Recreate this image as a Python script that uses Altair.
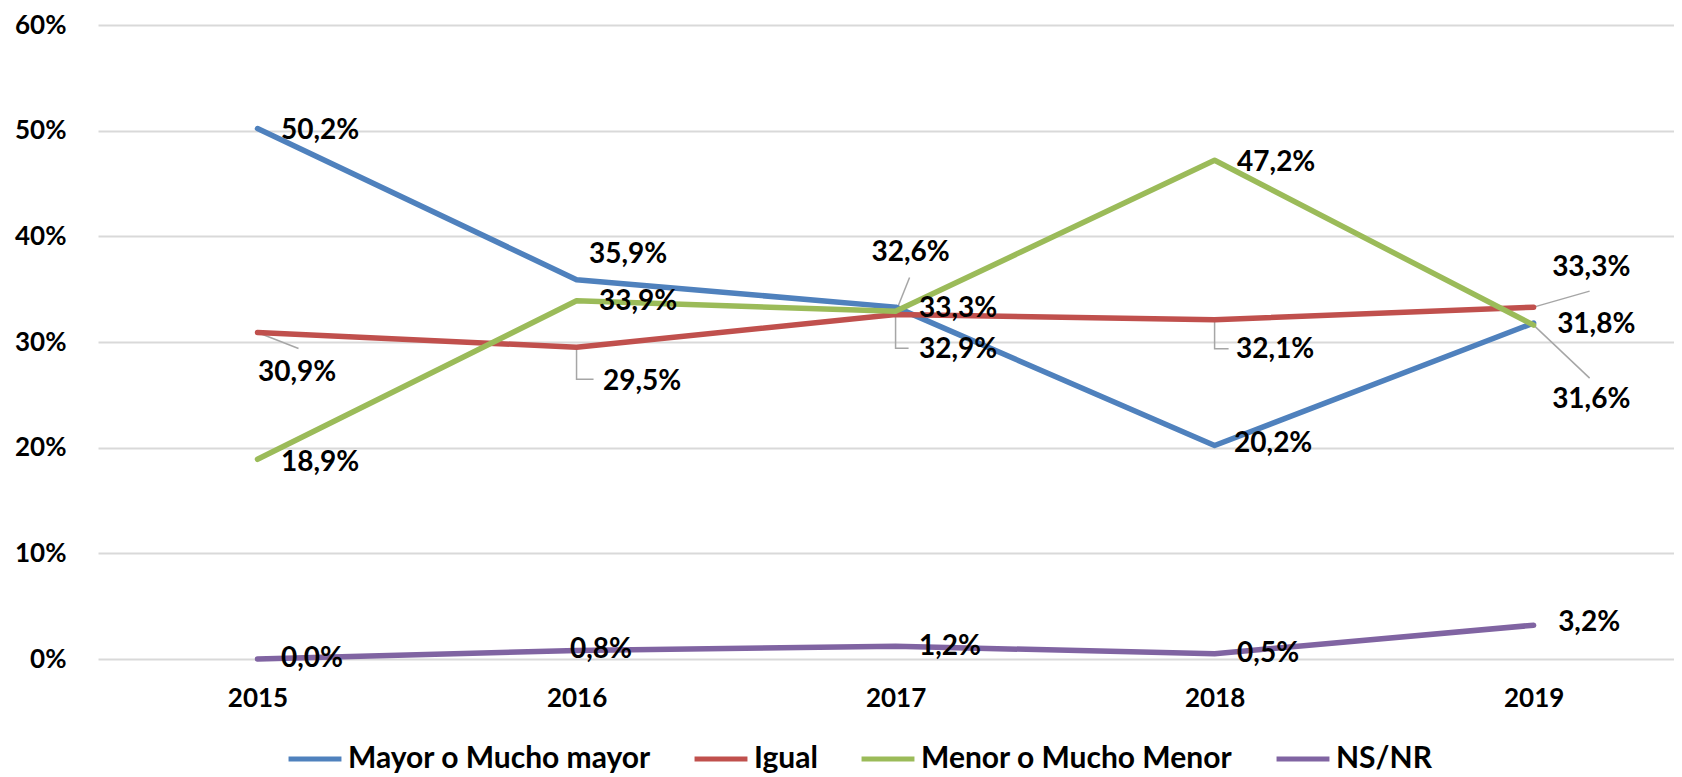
import altair as alt
import pandas as pd

# ---- data ----
years = [2015, 2016, 2017, 2018, 2019]
series_names = ["Mayor o Mucho mayor", "Igual", "Menor o Mucho Menor", "NS/NR"]
mayor = [50.2, 35.9, 33.3, 20.2, 31.8]
igual = [30.9, 29.5, 32.6, 32.1, 33.3]
menor = [18.9, 33.9, 32.9, 47.2, 31.6]
nsnr = [0.0, 0.8, 1.2, 0.5, 3.2]
colors = ["#4F81BD", "#C0504D", "#9BBB59", "#8064A2"]
y_ticks = [0.0, 0.1, 0.2, 0.3, 0.4, 0.5, 0.6]

# ---- label placement (pixel offsets from each point) ----
label_dx = {
    "Mayor o Mucho mayor": [23.5, 12.5, 23.5, 19.5, 23.5],
    "Igual": [0.5, 26.5, -24, 21.5, 18.5],
    "Menor o Mucho Menor": [23.5, 22.5, 23.5, 22.5, 18.5],
    "NS/NR": [23.5, -6.5, 23.5, 22.5, 24.5],
}
label_dy = {
    "Mayor o Mucho mayor": [2, -24.5, 2, -2, 2],
    "Igual": [41, 35, -62, 30, -39],
    "Menor o Mucho Menor": [4, 1, 39, 3, 75],
    "NS/NR": [0, -1, 1, 0, -2],
}
# leader lines: (series, year, polyline pixel offsets)
leaders = [
    ("Igual", 2015, [(0, 0), (41, 16)]),
    ("Igual", 2016, [(0, 0), (0, 32), (17, 32)]),
    ("Igual", 2017, [(0, -2), (14, -37)]),
    ("Menor o Mucho Menor", 2017, [(0, 0), (0, 37), (13, 37)]),
    ("Igual", 2018, [(0, 0), (0, 29), (14, 29)]),
    ("Igual", 2019, [(0, 0), (56, -16)]),
    ("Menor o Mucho Menor", 2019, [(0, 0), (56, 53)]),
]

W, H = 1576, 634
X_DOMAIN = [2014.5, 2019.44]
Y_DOMAIN = [0, 0.6]
PX_PER_YEAR = W / (X_DOMAIN[1] - X_DOMAIN[0])
PX_PER_UNIT = H / (Y_DOMAIN[1] - Y_DOMAIN[0])

values = dict(zip(series_names, [mayor, igual, menor, nsnr]))

rows = []
for s in series_names:
    for i, yr in enumerate(years):
        v = values[s][i] / 100.0
        rows.append({
            "year": yr,
            "value": v,
            "series": s,
            "lx": yr + label_dx[s][i] / PX_PER_YEAR,
            "ly": v - label_dy[s][i] / PX_PER_UNIT,
        })
df = pd.DataFrame(rows)

lrows = []
for k, (s, yr, pts) in enumerate(leaders):
    v = values[s][years.index(yr)] / 100.0
    for j, (dx, dy) in enumerate(pts):
        lrows.append({
            "id": k,
            "ord": j,
            "x": yr + dx / PX_PER_YEAR,
            "y": v - dy / PX_PER_UNIT,
        })
ldf = pd.DataFrame(lrows)

FONT = "Lato"

x_scale = alt.Scale(domain=X_DOMAIN, nice=False, zero=False)
y_scale = alt.Scale(domain=Y_DOMAIN, nice=False)
color_scale = alt.Scale(domain=series_names, range=colors)

x_axis = alt.Axis(values=years, format="d", grid=False, domain=False, ticks=False,
                  labelFont=FONT, labelFontSize=26, labelFontWeight="bold",
                  labelColor="black", labelPadding=26, title=None)
y_axis = alt.Axis(values=y_ticks, format=".0%", grid=True, gridColor="#D9D9D9",
                  gridWidth=2, domain=False, ticks=False, labelFont=FONT,
                  labelFontSize=26, labelFontWeight="bold", labelColor="black",
                  labelPadding=32, title=None)

layers = []
for s in series_names:
    layers.append(
        alt.Chart(df).transform_filter(alt.datum.series == s).mark_line(
            strokeWidth=5.5, strokeCap="round", strokeJoin="round"
        ).encode(
            x=alt.X("year:Q", scale=x_scale, axis=x_axis),
            y=alt.Y("value:Q", scale=y_scale, axis=y_axis),
            color=alt.Color(
                "series:N", scale=color_scale, sort=series_names,
                legend=alt.Legend(
                    orient="none", legendX=188, legendY=705, direction="horizontal",
                    title=None, symbolType="stroke", symbolStrokeWidth=5,
                    symbolSize=2800, labelFont=FONT, labelFontSize=30,
                    labelFontWeight="bold", labelColor="black", labelLimit=0,
                    columnPadding=33, labelOffset=4, padding=0,
                ),
            ),
        )
    )

leader_layer = alt.Chart(ldf).mark_line(color="#A6A6A6", strokeWidth=1.5).encode(
    x=alt.X("x:Q", scale=x_scale),
    y=alt.Y("y:Q", scale=y_scale),
    detail="id:N",
    order="ord:Q",
)

text_layer = alt.Chart(df).transform_calculate(
    txt="replace(format(datum.value, '.1%'), '.', ',')"
).mark_text(
    align="left", baseline="middle", font=FONT, fontSize=28, fontWeight="bold",
    color="black"
).encode(
    x=alt.X("lx:Q", scale=x_scale),
    y=alt.Y("ly:Q", scale=y_scale),
    text="txt:N",
)

chart = alt.layer(leader_layer, *layers, text_layer).properties(
    width=W, height=H,
    autosize=alt.AutoSizeParams(type="none"),
    padding={"left": 90, "top": 17, "right": 0, "bottom": 118},
    background="white",
).configure_view(stroke=None)

chart.save("out.html", embed_options={"renderer": "svg", "actions": False})
